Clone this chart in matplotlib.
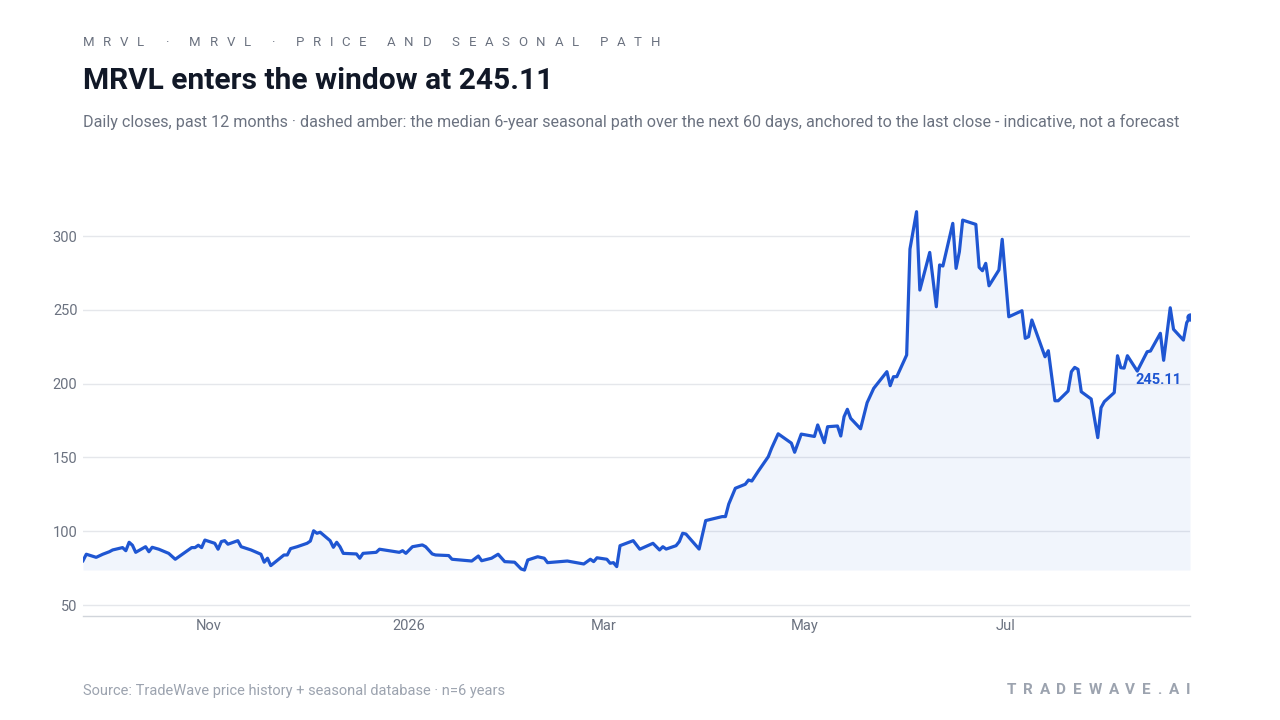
import matplotlib
matplotlib.use("Agg")
import matplotlib.pyplot as plt
import numpy as np
import pandas as pd

plt.rcParams['font.family'] = ['Roboto', 'DejaVu Sans']

# daily closes
dates = [
    "2025-09-24", "2025-09-25", "2025-09-28", "2025-09-30", "2025-10-02", "2025-10-03",
    "2025-10-06", "2025-10-07", "2025-10-08", "2025-10-09", "2025-10-10", "2025-10-13",
    "2025-10-14", "2025-10-15", "2025-10-17", "2025-10-20", "2025-10-22", "2025-10-27",
    "2025-10-28", "2025-10-29", "2025-10-30", "2025-10-31", "2025-11-03", "2025-11-04",
    "2025-11-05", "2025-11-06", "2025-11-07", "2025-11-10", "2025-11-11", "2025-11-14",
    "2025-11-17", "2025-11-18", "2025-11-19", "2025-11-20", "2025-11-24", "2025-11-25",
    "2025-11-26", "2025-11-28", "2025-12-01", "2025-12-02", "2025-12-03", "2025-12-04",
    "2025-12-05", "2025-12-08", "2025-12-09", "2025-12-10", "2025-12-11", "2025-12-12",
    "2025-12-16", "2025-12-17", "2025-12-18", "2025-12-22", "2025-12-23", "2025-12-29",
    "2025-12-30", "2025-12-31", "2026-01-02", "2026-01-05", "2026-01-06", "2026-01-08",
    "2026-01-09", "2026-01-13", "2026-01-14", "2026-01-20", "2026-01-22", "2026-01-23",
    "2026-01-26", "2026-01-28", "2026-01-30", "2026-02-02", "2026-02-04", "2026-02-05",
    "2026-02-06", "2026-02-09", "2026-02-11", "2026-02-12", "2026-02-18", "2026-02-23",
    "2026-02-25", "2026-02-26", "2026-02-27", "2026-03-02", "2026-03-03", "2026-03-04",
    "2026-03-05", "2026-03-06", "2026-03-10", "2026-03-12", "2026-03-16", "2026-03-18",
    "2026-03-19", "2026-03-20", "2026-03-23", "2026-03-24", "2026-03-25", "2026-03-26",
    "2026-03-30", "2026-04-01", "2026-04-06", "2026-04-07", "2026-04-08", "2026-04-10",
    "2026-04-13", "2026-04-14", "2026-04-15", "2026-04-17", "2026-04-20", "2026-04-21",
    "2026-04-23", "2026-04-27", "2026-04-28", "2026-04-30", "2026-05-04", "2026-05-05",
    "2026-05-07", "2026-05-08", "2026-05-11", "2026-05-12", "2026-05-13", "2026-05-14",
    "2026-05-15", "2026-05-18", "2026-05-20", "2026-05-22", "2026-05-26", "2026-05-27",
    "2026-05-28", "2026-05-29", "2026-06-01", "2026-06-02", "2026-06-04", "2026-06-05",
    "2026-06-08", "2026-06-10", "2026-06-11", "2026-06-12", "2026-06-15", "2026-06-16",
    "2026-06-17", "2026-06-18", "2026-06-22", "2026-06-23", "2026-06-24", "2026-06-25",
    "2026-06-26", "2026-06-29", "2026-06-30", "2026-07-02", "2026-07-06", "2026-07-07",
    "2026-07-08", "2026-07-09", "2026-07-13", "2026-07-14", "2026-07-16", "2026-07-17",
    "2026-07-20", "2026-07-21", "2026-07-22", "2026-07-23", "2026-07-24", "2026-07-27",
    "2026-07-29", "2026-07-30", "2026-07-31", "2026-08-03", "2026-08-04", "2026-08-05",
    "2026-08-06", "2026-08-07", "2026-08-10", "2026-08-13", "2026-08-14", "2026-08-17",
    "2026-08-18", "2026-08-20", "2026-08-21", "2026-08-24", "2026-08-25", "2026-08-26",
]
closes = [
    80.0, 84.4, 82.3, 84.4, 86.1, 87.3,
    88.9, 86.8, 92.5, 90.5, 85.7, 89.5,
    86.1, 89.1, 87.8, 85.0, 81.0, 88.9,
    88.9, 90.5, 88.9, 94.0, 91.8, 87.8,
    93.0, 93.6, 91.2, 93.6, 89.5, 87.3,
    84.4, 79.0, 81.7, 76.7, 83.9, 83.9,
    88.2, 89.5, 91.8, 93.3, 100.3, 98.6,
    99.3, 93.6, 89.1, 92.5, 89.5, 85.0,
    84.6, 81.7, 85.0, 85.7, 87.8, 85.7,
    86.8, 85.0, 89.5, 90.7, 89.5, 84.6,
    83.9, 83.5, 81.0, 79.8, 83.2, 80.0,
    81.7, 84.4, 79.4, 79.0, 74.4, 73.7,
    80.5, 82.7, 81.7, 78.7, 79.8, 77.8,
    81.0, 79.4, 82.0, 81.0, 78.3, 78.7,
    76.0, 90.2, 93.6, 87.8, 91.8, 87.3,
    89.5, 87.9, 90.2, 93.0, 98.6, 98.1,
    87.9, 107.2, 109.9, 109.9, 118.4, 129.1,
    131.8, 134.7, 134.0, 140.8, 150.5, 156.2,
    166.0, 159.7, 153.5, 165.8, 164.2, 172.0,
    160.0, 170.8, 171.3, 164.5, 177.6, 182.6,
    176.5, 169.4, 187.1, 196.8, 208.1, 198.6,
    204.7, 204.7, 219.4, 291.2, 316.5, 263.4,
    288.9, 252.1, 280.4, 279.7, 308.6, 278.1,
    289.4, 310.8, 307.9, 278.8, 276.5, 281.5,
    266.3, 277.0, 297.8, 245.3, 249.4, 230.7,
    231.8, 243.1, 218.2, 222.3, 188.4, 188.4,
    195.0, 208.1, 211.0, 209.7, 194.5, 189.6,
    163.4, 183.7, 187.8, 193.9, 218.9, 210.8,
    210.5, 218.9, 208.5, 221.6, 222.1, 234.1,
    215.8, 251.4, 236.8, 229.5, 241.3, 245.11,
]

ytick_vals = [50, 100, 150, 200, 250, 300]
xtick_dates = ["2025-11-01", "2026-01-01", "2026-03-01", "2026-05-01", "2026-07-01"]
xtick_labels = ["Nov", "2026", "Mar", "May", "Jul"]

header = "MRVL · MRVL · PRICE AND SEASONAL PATH"
title = "MRVL enters the window at 245.11"
subtitle = ("Daily closes, past 12 months · dashed amber: the median 6-year seasonal path over "
            "the next 60 days, anchored to the last close - indicative, not a forecast")
source = "Source: TradeWave price history + seasonal database · n=6 years"
brand = "TRADEWAVE.AI"

BLUE = "#1f56d2"
DARK = "#111827"
GREY = "#6b7280"
LIGHT = "#9ca3af"

x = pd.to_datetime(dates)
y = np.array(closes)

fig = plt.figure(figsize=(12.8, 7.2), dpi=100)
W, H = 1280, 720
ax = fig.add_axes([83 / W, 1 - 616 / H, 1107 / W, 426 / H])

ax.fill_between(x, y, y.min(), color=BLUE, alpha=0.06, lw=0)
ax.plot(x, y, color=BLUE, lw=2.3, solid_joinstyle="round")
ax.plot(x[-1:], y[-1:], "o", color=BLUE, ms=5)
ax.annotate(f"{y[-1]:.2f}", (x[-1], y[-1]), xytext=(-8, -63), textcoords="offset pixels",
            ha="right", va="center", color=BLUE, fontsize=10.5, fontweight="bold")

ax.set_xlim(pd.Timestamp("2025-09-24"), pd.Timestamp("2026-08-26"))
ax.set_ylim(42.55, 331.2)
ax.set_yticks(ytick_vals)
ax.set_xticks(pd.to_datetime(xtick_dates))
ax.set_xticklabels(xtick_labels)
ax.tick_params(axis="both", length=0, labelsize=10.5, labelcolor=GREY)
ax.tick_params(axis="y", pad=4)
ax.tick_params(axis="x", pad=2)
ax.grid(axis="y", color="#e5e7eb", lw=1)
ax.set_axisbelow(True)
for s in ["top", "right", "left"]:
    ax.spines[s].set_visible(False)
ax.spines["bottom"].set_color("#d1d5db")
ax.spines["bottom"].set_linewidth(1)

renderer = fig.canvas.get_renderer()


def spaced_text(x0, x1, yb, s, **kw):
    # letter-spaced text placed char by char, stretched to run from x0 to x1 (pixels)
    items = []
    for ch in s:
        t = fig.text(0, yb, ch, va="baseline", ha="left", **kw)
        w = t.get_window_extent(renderer).width
        if ch == " ":
            w = kw.get("fontsize", 10) * 0.35
        items.append((t, w))
    natural = sum(w for _, w in items)
    track = (x1 - x0 - natural) / (len(items) - 1)
    cx = x0
    for t, w in items:
        t.set_x(cx / W)
        cx += w + track


spaced_text(83, 660, 1 - 45.7 / H, header, fontsize=9.5, color=GREY)
fig.text(83 / W, 1 - 89 / H, title, fontsize=21.5, fontweight="bold", color=DARK, va="baseline")
fig.text(83 / W, 1 - 126.5 / H, subtitle, fontsize=11.6, color=GREY, va="baseline")
fig.text(83 / W, 1 - 694.5 / H, source, fontsize=10.5, color=LIGHT, va="baseline")
spaced_text(1007, 1190, 1 - 694.5 / H, brand, fontsize=11, fontweight="bold", color=LIGHT)

fig.savefig("out.png", dpi=100)
